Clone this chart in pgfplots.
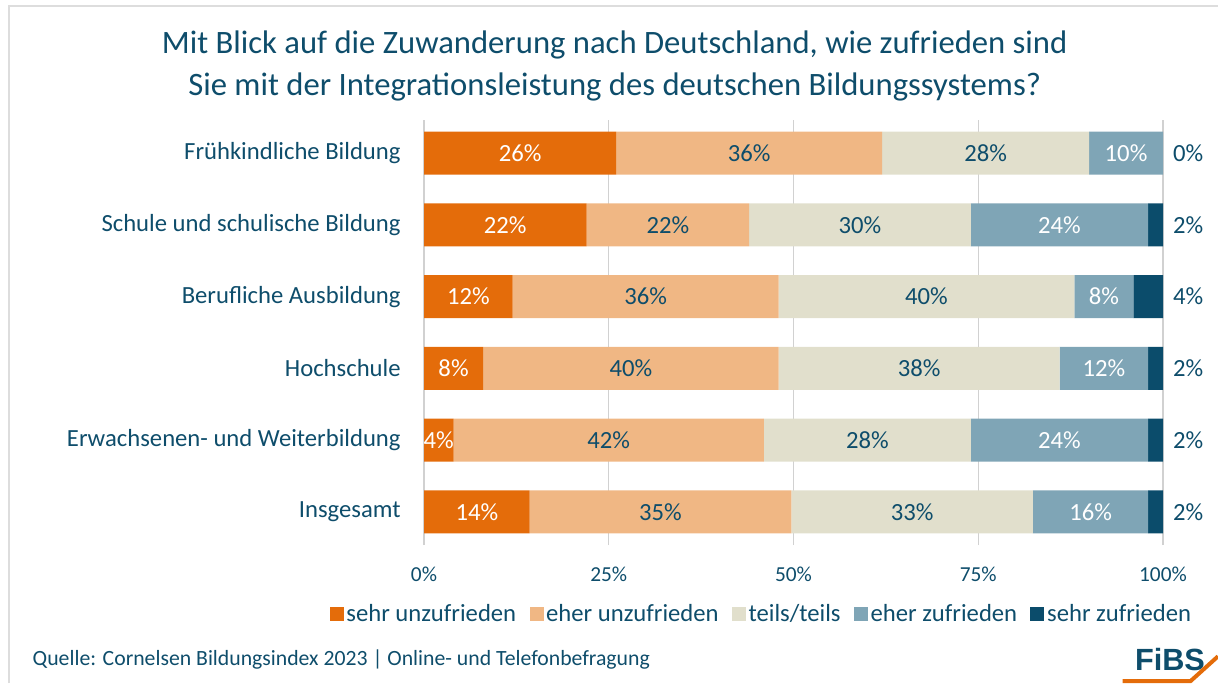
\documentclass[border=0pt]{standalone}
\usepackage{pgfplots}
\usepackage{pgfplotstable}
\pgfplotsset{compat=1.18}
\usepackage{fontspec}
\setmainfont{Carlito}
\newfontfamily\logofont{Liberation Sans}
\definecolor{c1}{HTML}{E46C0A}
\definecolor{c2}{HTML}{F0B784}
\definecolor{c3}{HTML}{E1DFCC}
\definecolor{c4}{HTML}{7FA5B6}
\definecolor{c5}{HTML}{0B4C6B}
\definecolor{txt}{HTML}{0E4D6B}
\definecolor{frame}{HTML}{DDDDDD}
\pgfplotstableread{
y s1 s2 s3 s4 s5
5 26 36 28 10 0
4 22 22 30 24 2
3 12 36 40 8 4
2 8 40 38 12 2
1 4 42 28 24 2
0 14.3 35.4 32.7 15.6 2
}\datatable
\pgfplotstablecreatecol[create col/expr={\thisrow{s1}/2}]{m1}{\datatable}
\pgfplotstablecreatecol[create col/expr={\thisrow{s1}+\thisrow{s2}/2}]{m2}{\datatable}
\pgfplotstablecreatecol[create col/expr={\thisrow{s1}+\thisrow{s2}+\thisrow{s3}/2}]{m3}{\datatable}
\pgfplotstablecreatecol[create col/expr={\thisrow{s1}+\thisrow{s2}+\thisrow{s3}+\thisrow{s4}/2}]{m4}{\datatable}
\pgfplotstablecreatecol[create col/expr={100}]{m5}{\datatable}
\pgfplotsset{geom/.style={at={(318pt,103.5pt)}, anchor=south west, scale only axis,
  width=554.25pt, height=318.75pt, xmin=0, xmax=100, ymin=-0.46, ymax=5.46}}
\begin{document}
\begin{tikzpicture}
\path[use as bounding box] (0,0) rectangle (913.5pt,512.25pt);
\draw[frame, line width=1.5pt] (6.5pt,0) -- (6.5pt,508pt) -- (913.5pt,508pt);
\node[text=txt, font=\fontsize{24.5}{31.5}\selectfont, align=center] at (461pt,462.75pt)
  {Mit Blick auf die Zuwanderung nach Deutschland, wie zufrieden sind\\Sie mit der Integrationsleistung des deutschen Bildungssystems?};
\begin{axis}[
  geom,
  xbar stacked, bar width=32.25pt,
  xtick={0,25,50,75,100}, xticklabels={0\%,25\%,50\%,75\%,100\%},
  ytick={0,1,2,3,4,5},
  yticklabels={Insgesamt,Erwachsenen- und Weiterbildung,Hochschule,Berufliche Ausbildung,Schule und schulische Bildung,Frühkindliche Bildung},
  xmajorgrids, major grid style={draw=black!18, line width=0.9pt},
  axis line style={draw=none}, major tick length=0pt,
  xticklabel style={text=txt, font=\fontsize{16}{18}\selectfont, yshift=-13pt},
  yticklabel style={text=txt, font=\fontsize{18.5}{20}\selectfont, xshift=-14pt},
  legend columns=5,
  legend style={draw=none, fill=none, at={(0.457,-0.162)}, anchor=center,
     font=\fontsize{18.5}{20}\selectfont, text=txt,
     /tikz/every even column/.append style={column sep=8pt}},
  legend image code/.code={\fill[#1] (0pt,-5.25pt) rectangle (10.5pt,5.25pt);},
]
\addplot[fill=c1, draw=none] table[x=s1,y=y] {\datatable};
\addplot[fill=c2, draw=none] table[x=s2,y=y] {\datatable};
\addplot[fill=c3, draw=none] table[x=s3,y=y] {\datatable};
\addplot[fill=c4, draw=none] table[x=s4,y=y] {\datatable};
\addplot[fill=c5, draw=none] table[x=s5,y=y] {\datatable};
\legend{sehr unzufrieden,eher unzufrieden,teils/teils,eher zufrieden,sehr zufrieden}
\end{axis}
\begin{axis}[
  geom, hide axis, clip=false,
  /pgf/number format/assume math mode=true,
  every axis plot/.append style={draw=none, mark=none, point meta=explicit,
    nodes near coords={\pgfmathprintnumber[fixed,precision=0]{\pgfplotspointmeta}\%}},
  every node near coord/.append style={anchor=center, font=\fontsize{18.5}{20}\selectfont},
]
\addplot[every node near coord/.append style={text=white}] table[x=m1,y=y,meta=s1] {\datatable};
\addplot[every node near coord/.append style={text=txt}] table[x=m2,y=y,meta=s2] {\datatable};
\addplot[every node near coord/.append style={text=txt}] table[x=m3,y=y,meta=s3] {\datatable};
\addplot[every node near coord/.append style={text=white}] table[x=m4,y=y,meta=s4] {\datatable};
\addplot[every node near coord/.append style={text=txt, anchor=west, xshift=4pt}] table[x=m5,y=y,meta=s5] {\datatable};
\end{axis}
\node[anchor=west, text=txt, font=\fontsize{16.3}{18}\selectfont] at (21pt,17.25pt)
  {Quelle: Cornelsen Bildungsindex 2023 | Online- und Telefonbefragung};
\node[text=txt, font=\logofont\fontsize{23}{25}\bfseries\selectfont] at (877.5pt,17.5pt) {FiBS};
\draw[c1, line width=3pt] (842pt,1.5pt) -- (893pt,1.5pt) -- (913.5pt,20pt);
\end{tikzpicture}
\end{document}
